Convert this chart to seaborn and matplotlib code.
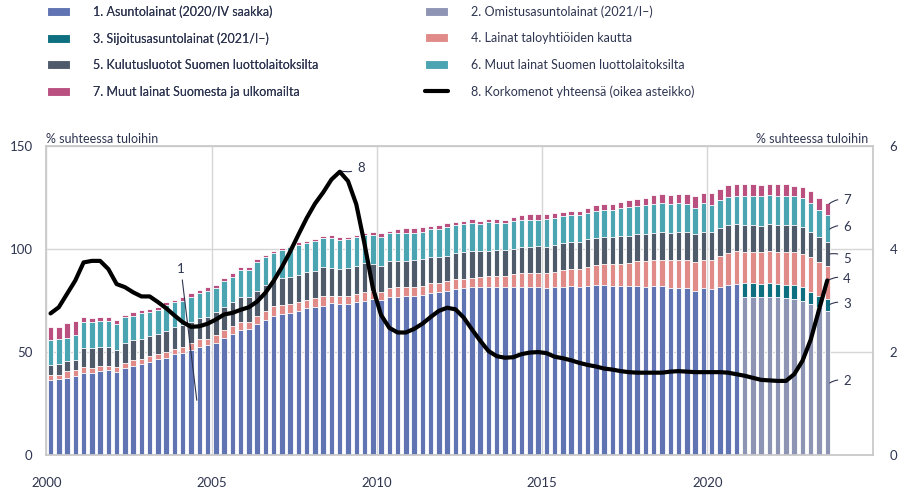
import numpy as np
import pandas as pd
import seaborn as sns
import matplotlib.pyplot as plt
from matplotlib.patches import Patch
from matplotlib.lines import Line2D

# Quarters 2000Q1 - 2023Q3
quarters = pd.period_range("2000Q1", "2023Q3", freq="Q")

# 1. Asuntolainat (2020/IV saakka), % of income
asuntolainat = [
    36.3, 36.8, 37.6, 38.4, 39.9, 39.9, 40.8, 41.1, 40.3, 42.4,
    43.2, 44.4, 45.2, 46.8, 47.3, 49.2, 49.5, 51.1, 52.4, 53.6,
    54.4, 56.9, 58.9, 60.8, 61.3, 63.7, 65.5, 67.7, 68.5, 69.0,
    69.8, 71.3, 71.8, 72.3, 73.7, 73.4, 73.1, 74.2, 75.0, 75.6,
    75.3, 76.6, 76.9, 77.4, 77.4, 77.9, 78.5, 79.0, 79.8, 80.6,
    81.0, 81.4, 81.4, 81.4, 81.4, 81.4, 81.4, 81.8, 81.8, 81.8,
    81.1, 81.8, 81.8, 82.2, 81.8, 82.2, 82.7, 82.6, 82.2, 82.2,
    82.2, 82.2, 81.8, 82.2, 82.2, 81.1, 81.1, 81.1, 79.8, 81.1,
    80.6, 81.8, 82.6, 83.1,
]
# 2. Omistusasuntolainat (2021/I-)
omistus = [76.9, 76.9, 76.9, 76.9, 76.6, 76.3, 75.8, 75.0, 73.4, 71.8, 69.8]
# 3. Sijoitusasuntolainat (2021/I-)
sijoitus = [6.6, 6.6, 6.2, 6.6, 6.5, 6.4, 6.9, 6.8, 5.6, 5.6, 6.0]
# 4. Lainat taloyhtiöiden kautta
taloyhtio = [
    2.4, 2.2, 3.0, 2.8, 2.9, 2.5, 2.3, 2.3, 2.5, 2.3,
    2.8, 2.1, 2.7, 2.4, 2.7, 2.4, 3.2, 3.3, 3.7, 2.9,
    3.7, 3.6, 3.7, 4.0, 3.5, 4.0, 4.3, 4.6, 4.4, 4.4,
    4.7, 4.2, 4.3, 5.1, 3.7, 4.0, 4.3, 4.0, 4.0, 3.9,
    4.0, 4.4, 4.5, 4.4, 4.4, 4.4, 4.9, 4.4, 4.5, 4.9,
    4.5, 4.6, 5.2, 5.7, 5.7, 5.7, 6.5, 6.6, 6.6, 6.6,
    7.1, 7.2, 8.0, 8.3, 8.5, 9.2, 9.5, 10.1, 10.5, 10.5,
    10.8, 12.1, 12.5, 12.6, 12.6, 13.7, 13.7, 13.7, 14.1, 13.7,
    14.2, 15.0, 15.3, 15.8, 14.9, 14.9, 15.3, 15.4, 15.3, 15.7,
    15.7, 15.8, 16.9, 16.1, 15.8,
]
# 5. Kulutusluotot Suomen luottolaitoksilta
kulutus = [
    4.9, 5.0, 4.9, 5.1, 9.3, 9.7, 9.6, 9.3, 8.3, 9.7,
    9.7, 10.0, 9.8, 9.4, 10.2, 10.8, 10.2, 10.1, 10.5, 10.4,
    11.3, 11.6, 11.6, 11.8, 11.8, 12.1, 12.8, 13.2, 13.1, 12.9,
    12.9, 13.2, 13.4, 13.7, 13.4, 12.9, 13.4, 13.6, 14.1, 13.2,
    12.5, 13.0, 12.9, 12.5, 12.9, 12.7, 12.5, 12.5, 12.5, 12.4,
    12.9, 13.2, 12.3, 12.1, 12.4, 12.4, 12.2, 12.4, 12.7, 13.0,
    12.6, 13.1, 12.9, 12.9, 13.1, 13.3, 13.1, 12.9, 12.9, 13.7,
    13.4, 12.9, 12.9, 13.2, 13.7, 13.2, 13.7, 13.7, 13.3, 13.7,
    13.7, 13.3, 13.7, 13.2, 13.2, 13.2, 12.9, 13.2, 13.2, 13.2,
    13.2, 13.2, 12.6, 12.1, 11.6,
]
# 6. Muut lainat Suomen luottolaitoksilta
muut_fi = [
    12.4, 12.3, 11.5, 12.1, 12.4, 12.4, 12.3, 12.3, 12.3, 12.5,
    12.0, 12.4, 11.7, 11.9, 12.4, 11.8, 12.1, 12.4, 11.9, 12.9,
    11.7, 12.2, 12.4, 13.2, 13.2, 13.7, 13.3, 12.4, 13.5, 14.5,
    14.7, 14.0, 14.5, 14.2, 14.5, 14.0, 14.0, 14.1, 13.8, 14.2,
    13.8, 13.6, 13.6, 13.7, 13.3, 13.5, 13.6, 13.8, 13.7, 13.7,
    13.7, 13.2, 13.2, 13.7, 13.2, 13.2, 13.3, 13.5, 13.2, 12.9,
    13.7, 12.9, 13.1, 12.9, 12.9, 12.9, 13.2, 13.2, 13.2, 13.7,
    14.1, 13.6, 14.1, 13.7, 13.6, 13.7, 13.7, 13.2, 12.9, 13.7,
    12.9, 13.7, 13.7, 13.7, 13.9, 13.9, 14.2, 14.0, 13.9, 13.9,
    13.9, 13.8, 13.7, 13.2, 13.2,
]
# 7. Muut lainat Suomesta ja ulkomailta
muut_ulk = [
    6.1, 6.1, 7.0, 6.6, 2.4, 1.9, 1.9, 1.9, 2.2, 1.3,
    1.7, 1.3, 1.6, 1.6, 1.6, 1.1, 1.6, 1.6, 1.7, 1.6,
    1.6, 1.5, 1.6, 1.6, 1.6, 1.6, 1.2, 1.3, 1.0, 0.8,
    1.4, 1.3, 1.1, 1.0, 1.6, 1.6, 1.1, 1.0, 1.0, 1.6,
    2.1, 1.2, 1.8, 2.1, 2.0, 2.3, 1.6, 1.9, 2.2, 1.6,
    1.6, 2.1, 1.6, 1.6, 1.8, 1.6, 2.2, 2.0, 2.6, 2.6,
    2.4, 2.4, 2.2, 2.2, 2.2, 2.2, 2.8, 2.9, 2.9, 2.9,
    3.2, 3.4, 3.7, 4.6, 4.8, 4.6, 4.7, 5.2, 5.7, 5.2,
    6.0, 5.4, 5.8, 5.9, 6.2, 6.2, 5.6, 5.6, 6.2, 6.2,
    5.1, 5.5, 6.0, 6.2, 6.1,
]
# 8. Korkomenot yhteensä (right axis)
korkomenot = [
    2.75, 2.87, 3.13, 3.39, 3.74, 3.77, 3.77, 3.61, 3.32, 3.26,
    3.16, 3.08, 3.08, 2.97, 2.85, 2.71, 2.58, 2.49, 2.50, 2.55,
    2.63, 2.73, 2.76, 2.82, 2.87, 2.98, 3.15, 3.38, 3.65, 3.95,
    4.28, 4.60, 4.88, 5.10, 5.35, 5.50, 5.32, 4.87, 4.10, 3.25,
    2.72, 2.47, 2.38, 2.38, 2.45, 2.55, 2.68, 2.80, 2.86, 2.83,
    2.67, 2.44, 2.22, 2.02, 1.92, 1.89, 1.90, 1.96, 1.99, 2.00,
    1.98, 1.91, 1.88, 1.84, 1.79, 1.75, 1.72, 1.68, 1.66, 1.63,
    1.61, 1.60, 1.60, 1.60, 1.60, 1.62, 1.63, 1.62, 1.61, 1.61,
    1.61, 1.61, 1.60, 1.57, 1.54, 1.50, 1.46, 1.45, 1.44, 1.44,
    1.57, 1.83, 2.24, 2.82, 3.39,
]

labels = [
    "1. Asuntolainat (2020/IV saakka)",
    "2. Omistusasuntolainat (2021/I\u2013)",
    "3. Sijoitusasuntolainat (2021/I\u2013)",
    "4. Lainat taloyhtiöiden kautta",
    "5. Kulutusluotot Suomen luottolaitoksilta",
    "6. Muut lainat Suomen luottolaitoksilta",
    "7. Muut lainat Suomesta ja ulkomailta",
    "8. Korkomenot yhteensä (oikea asteikko)",
]
colors = ["#6073b2", "#8e95b4", "#0e6f80", "#e08b88",
          "#4f5a6b", "#4ba4b1", "#b9507f", "#000000"]
text_col = "#2e3550"

# build table with stacked tops
n_old = len(asuntolainat)
pad = [np.nan] * (len(quarters) - n_old)
df = pd.DataFrame({
    "x": [q.year + (q.quarter - 0.5) / 4 for q in quarters],
    "s1": asuntolainat + pad,
    "s2": [np.nan] * n_old + omistus,
    "s3": [np.nan] * n_old + sijoitus,
    "s4": taloyhtio, "s5": kulutus, "s6": muut_fi, "s7": muut_ulk,
    "s8": korkomenot,
})
df["c3"] = df["s1"].fillna(0) + df["s2"].fillna(0) + df["s3"].fillna(0)
df["c4"] = df["c3"] + df["s4"]
df["c5"] = df["c4"] + df["s5"]
df["c6"] = df["c5"] + df["s6"]
df["c7"] = df["c6"] + df["s7"]

sns.set_style("white")
plt.rcParams["font.family"] = ["Lato", "DejaVu Sans"]

fig = plt.figure(figsize=(9.01, 4.94), dpi=100)
ax = fig.add_axes([46.4 / 901, 1 - 455.1 / 494, 826.3 / 901, 309.1 / 494])

# draw tallest first, lower layers on top
layers = [("c7", 6), ("c6", 5), ("c5", 4), ("c4", 3), ("c3", 2), ("s1", 0), ("s2", 1)]
for col, ci in layers:
    sub = df.dropna(subset=[col])
    if col == "c3":
        sub = sub[sub["s3"].notna()]
    sns.barplot(data=sub, x="x", y=col, native_scale=True, orient="x",
                color=colors[ci], saturation=1, width=0.66, errorbar=None,
                edgecolor="white", linewidth=0.6, ax=ax)

ax.set_xlim(2000, 2025)
ax.set_ylim(0, 150)
ax.set_xticks([2000, 2005, 2010, 2015, 2020])
ax.set_yticks([0, 50, 100, 150])
ax.set_xlabel("")
ax.set_ylabel("")
ax.grid(True, color="#d6d6d6", lw=1)
ax.set_axisbelow(True)
for s in ax.spines.values():
    s.set_color("#c9c9c9")
    s.set_linewidth(1.3)
ax.tick_params(axis="both", length=0, colors=text_col, labelsize=9.5)
ax.tick_params(axis="y", pad=10)
ax.tick_params(axis="x", pad=16)

ax2 = ax.twinx()
sns.lineplot(data=df, x="x", y="s8", color="black", lw=3, ax=ax2)
ax2.set_ylim(0, 6)
ax2.set_yticks([0, 2, 4, 6])
ax2.set_ylabel("")
ax2.grid(False)
for s in ax2.spines.values():
    s.set_visible(False)
ax2.tick_params(axis="y", length=0, colors=text_col, labelsize=9.5, pad=12)

# series labels
akw = dict(arrowstyle="-", lw=0.8, color=text_col, shrinkA=1.5, shrinkB=0)
tkw = dict(ha="center", va="center", fontsize=9.5, color=text_col)
ax.annotate("1", xy=(2004.55, 26.6), xytext=(2004.07, 90.5), arrowprops=akw, **tkw)
ax.annotate("8", xy=(2008.9, 137.9), xytext=(2009.51, 139.3),
            arrowprops=dict(akw, connectionstyle="arc3,rad=-0.2"), **tkw)
for lab, xy, yt in [("7", (2023.68, 121.9), 123.7), ("6", (2023.70, 109.7), 110.8),
                    ("5", (2023.70, 97.6), 95.2), ("4", (2023.64, 84.7), 85.5),
                    ("3", (2023.70, 73.1), 73.2), ("2", (2023.70, 35.0), 35.8)]:
    ax.annotate(lab, xy=xy, xytext=(2024.22, yt),
                arrowprops=dict(akw, connectionstyle="arc3,rad=0.25"), **tkw)

fig.text(46 / 901, 1 - 145 / 494, "% suhteessa tuloihin", ha="left", va="bottom",
         fontsize=9, color=text_col)
fig.text(868 / 901, 1 - 145 / 494, "% suhteessa tuloihin", ha="right", va="bottom",
         fontsize=9, color=text_col)

# legend in two columns
handles = [Patch(facecolor=c, edgecolor="white", lw=0.8) for c in colors[:7]]
handles.append(Line2D([], [], color="black", lw=3))
lkw = dict(loc="upper left", frameon=False, fontsize=9, labelcolor=text_col,
           handlelength=1.85, handleheight=0.75, handletextpad=1.8,
           labelspacing=1.16, borderpad=0, borderaxespad=0)
leg1 = fig.legend([handles[i] for i in (0, 2, 4, 6)], [labels[i] for i in (0, 2, 4, 6)],
                  bbox_to_anchor=(47 / 901, 1 - 5 / 494), **lkw)
fig.add_artist(leg1)
fig.legend([handles[i] for i in (1, 3, 5, 7)], [labels[i] for i in (1, 3, 5, 7)],
           bbox_to_anchor=(425 / 901, 1 - 5 / 494), **lkw)

fig.savefig("out.png", dpi=100)
